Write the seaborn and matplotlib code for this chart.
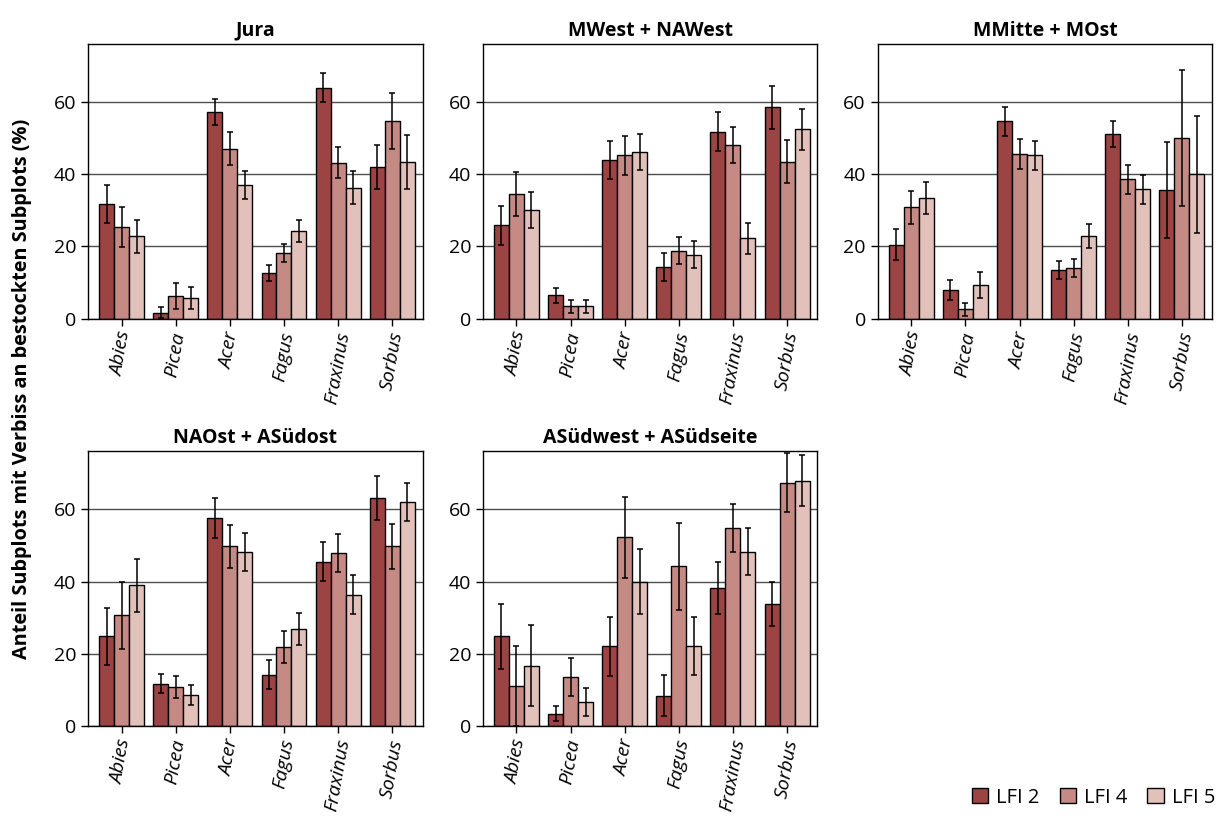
import pandas as pd
import matplotlib.pyplot as plt
import seaborn as sns
from matplotlib.patches import Patch

# === Data ===
species = ["Abies", "Picea", "Acer", "Fagus", "Fraxinus", "Sorbus"]
inventories = ["LFI 2", "LFI 4", "LFI 5"]
regions = ["Jura", "MWest + NAWest", "MMitte + MOst", "NAOst + ASüdost", "ASüdwest + ASüdseite"]

# rows: LFI 2, LFI 4, LFI 5 ; columns: species
jura_mean = [[31.7, 1.6, 57.2, 12.6, 64.0, 42.0],
             [25.3, 6.4, 47.1, 18.1, 43.2, 54.7],
             [22.8, 5.7, 37.0, 24.2, 36.3, 43.4]]
jura_err = [[5.2, 1.5, 3.7, 2.2, 4.1, 6.0],
            [5.5, 3.6, 4.5, 2.5, 4.3, 7.8],
            [4.6, 3.1, 4.0, 3.0, 4.6, 7.4]]

mwest_mean = [[25.8, 6.5, 43.9, 14.3, 51.7, 58.5],
              [34.5, 3.4, 45.2, 18.8, 48.1, 43.5],
              [30.1, 3.4, 46.1, 17.7, 22.3, 52.4]]
mwest_err = [[5.3, 2.1, 5.3, 3.9, 5.4, 6.0],
             [6.2, 1.7, 5.3, 3.8, 5.0, 6.0],
             [5.1, 1.7, 5.0, 3.8, 4.3, 5.6]]

mmitte_mean = [[20.5, 8.0, 54.7, 13.6, 51.2, 35.7],
               [30.8, 2.6, 45.5, 13.9, 38.6, 50.0],
               [33.4, 9.3, 45.2, 22.8, 35.8, 40.0]]
mmitte_err = [[4.3, 2.7, 4.0, 2.5, 3.6, 13.3],
              [4.5, 1.8, 4.2, 2.5, 4.0, 18.9],
              [4.4, 3.6, 4.0, 3.3, 4.0, 16.2]]

naost_mean = [[24.8, 11.7, 57.6, 14.2, 45.5, 63.1],
              [30.6, 10.7, 49.7, 21.9, 47.9, 49.7],
              [38.9, 8.6, 48.1, 26.8, 36.4, 62.0]]
naost_err = [[7.8, 2.7, 5.6, 4.0, 5.4, 6.1],
             [9.2, 3.0, 6.0, 4.5, 5.3, 6.2],
             [7.3, 2.7, 5.2, 4.5, 5.3, 5.3]]

asw_mean = [[24.9, 3.4, 22.1, 8.4, 38.2, 33.7],
            [11.1, 13.6, 52.2, 44.2, 54.9, 67.4],
            [16.7, 6.7, 39.9, 22.2, 48.2, 67.9]]
asw_err = [[9.0, 2.0, 8.2, 5.7, 7.1, 6.1],
           [11.1, 5.3, 11.1, 12.0, 6.6, 8.2],
           [11.2, 3.8, 9.0, 8.1, 6.5, 7.1]]

region_means = [jura_mean, mwest_mean, mmitte_mean, naost_mean, asw_mean]
region_errs = [jura_err, mwest_err, mmitte_err, naost_err, asw_err]

colors = ["#9b4443", "#c68a84", "#e3c1bb"]

# === Build tidy table ===
rows = []
for region, means, errs in zip(regions, region_means, region_errs):
    for i, inv in enumerate(inventories):
        for j, sp in enumerate(species):
            rows.append({"region": region, "species": sp, "lfi": inv,
                         "value": means[i][j], "err": errs[i][j]})
df = pd.DataFrame(rows)

# === Plot ===
sns.set_style("ticks")
plt.rcParams["font.family"] = ["Open Sans", "DejaVu Sans"]
plt.rcParams["text.color"] = "black"

fig, axes = plt.subplots(2, 3, figsize=(12.32, 8.18), dpi=100)
plt.subplots_adjust(left=0.0714, right=0.984, top=0.946, bottom=0.1125,
                    wspace=0.18, hspace=0.484)

for ax, region in zip(axes.flat, regions):
    sub = df[df["region"] == region]
    sns.barplot(data=sub, x="species", y="value", hue="lfi", order=species,
                hue_order=inventories, palette=colors, errorbar=None, width=0.83,
                edgecolor="black", linewidth=1, saturation=1, legend=False, ax=ax)

    # error bars at the bar centres
    for inv, container in zip(inventories, ax.containers):
        for bar in container:
            xc = bar.get_x() + bar.get_width() / 2
            sp = species[int(round(xc))]
            e = sub[(sub["lfi"] == inv) & (sub["species"] == sp)]["err"].iloc[0]
            ax.errorbar(xc, bar.get_height(), yerr=e, fmt="none", ecolor="black",
                        elinewidth=1.1, capsize=2.2, capthick=1.1, zorder=5)

    ax.set_xlim(-0.62, 5.56)
    ax.set_ylim(0, 76)
    ax.set_yticks([0, 20, 40, 60])
    ax.yaxis.grid(True, color="#4d4d4d", linewidth=1)
    ax.set_axisbelow(True)
    ax.set_title(region, fontsize=14, fontweight="bold", pad=6, color="black")
    ax.set_xlabel("")
    ax.set_ylabel("")
    ax.tick_params(axis="y", labelsize=14, length=5, width=1, color="black",
                   labelcolor="black")
    ax.tick_params(axis="x", labelsize=14, length=5, width=1, color="black",
                   labelcolor="black", labelrotation=80)
    for lbl in ax.get_xticklabels():
        lbl.set_style("italic")
    for s in ax.spines.values():
        s.set_color("black")
        s.set_linewidth(1)

axes.flat[5].axis("off")

fig.text(0.018, 0.525, "Anteil Subplots mit Verbiss an bestockten Subplots (%)",
         rotation=90, va="center", ha="center", fontsize=14.3, fontweight="bold")

handles = [Patch(facecolor=c, edgecolor="black", linewidth=1) for c in colors]
fig.legend(handles, inventories, loc="lower right", bbox_to_anchor=(0.996, -0.002),
           ncol=3, frameon=False, fontsize=14.5, handlelength=0.8, handleheight=0.8,
           handletextpad=0.4, columnspacing=1.0, borderaxespad=0.2)

plt.savefig("out.png", dpi=100)
